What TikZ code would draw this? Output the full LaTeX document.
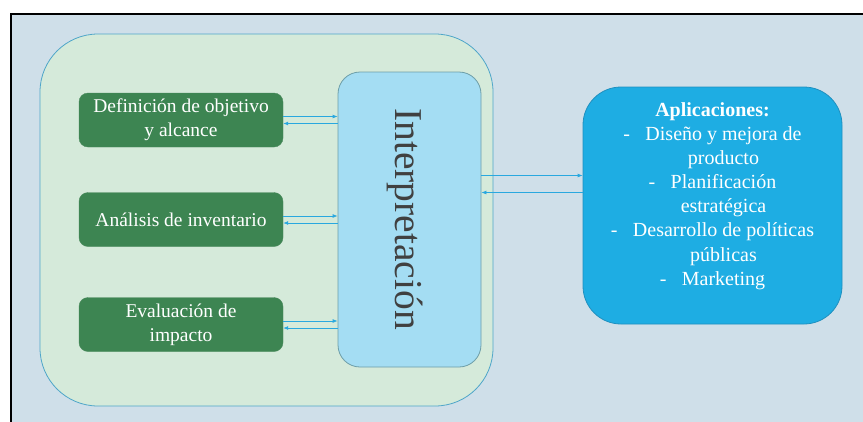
\documentclass[tikz,border=0pt]{standalone}
\usepackage{fontspec}
\setmainfont{Liberation Serif}
\usetikzlibrary{arrows.meta}

\definecolor{fondo}{HTML}{CFDFE9}
\definecolor{contfondo}{HTML}{D5EADA}
\definecolor{contborde}{HTML}{4FA6C9}
\definecolor{verde}{HTML}{3D8552}
\definecolor{verdeborde}{HTML}{4A8A5C}
\definecolor{celeste}{HTML}{A4DDF3}
\definecolor{celesteborde}{HTML}{6D9EA8}
\definecolor{azul}{HTML}{1EADE3}
\definecolor{azulborde}{HTML}{2090BF}
\definecolor{flechaazul}{HTML}{29A8DF}
\definecolor{gris}{HTML}{404040}

\newcommand{\guion}{\makebox[22pt][l]{-}}

\begin{document}
\begin{tikzpicture}[x=1pt, y=-1pt, >={Latex[length=5pt,width=4pt]},
    etapa/.style={draw=verdeborde, fill=verde, rounded corners=9pt,
        minimum width=204pt, minimum height=54pt, inner sep=0pt,
        text=white, align=center, font=\fontsize{19.5}{24}\selectfont},
    flecha/.style={->, draw=flechaazul, line width=0.8pt}]
    % 1. Fondo y marco
    \useasboundingbox (0,0) rectangle (863,421);
    \clip (0,0) rectangle (863,421);
    \fill[white] (0,0) rectangle (863,421);
    \draw[line width=2pt, fill=fondo] (11,14) rectangle (880,440);

    % 2. Contenedor de las fases
    \draw[contborde, fill=contfondo, line width=0.8pt, rounded corners=58pt]
        (40,34) rectangle (493,406);

    % 3. Fases
    \node[etapa] (objetivo) at (181,120) {Definición de objetivo\\y alcance};
    \node[etapa] (inventario) at (181,219.5) {Análisis de inventario};
    \node[etapa] (impacto) at (181,324.5) {Evaluación de\\impacto};

    % 4. Interpretación
    \node[draw=celesteborde, fill=celeste, line width=0.8pt, rounded corners=22pt,
        minimum width=143pt, minimum height=295pt, inner sep=0pt] (interp) at (409.5,219.5) {};
    \node[rotate=-90, text=gris, font=\fontsize{39.5}{40}\selectfont] (interptexto)
        at (405,219) {Interpretación};

    % 5. Aplicaciones
    \node[draw=azulborde, fill=azul, line width=0.8pt, rounded corners=38pt,
        minimum width=259pt, minimum height=237pt, inner sep=0pt] (aplic) at (712.5,205.5) {};
    \node[text=white, align=center, font=\fontsize{20}{24.1}\selectfont] (aplictexto)
        at (712.5,196) {\textbf{Aplicaciones:}\\
        \guion Diseño y mejora de\\ \hspace*{22pt}producto\\
        \guion Planificación\\ \hspace*{22pt}estratégica\\
        \guion Desarrollo de políticas\\ \hspace*{22pt}públicas\\
        \guion Marketing};

    % 6. Flechas de ida y vuelta
    \foreach \fase in {objetivo, inventario, impacto}{
        \path ([yshift=3.5pt]\fase.east) coordinate (\fase-ida)
              ([yshift=-3.5pt]\fase.east) coordinate (\fase-vuelta);
        \draw[flecha] (\fase-ida) -- (\fase-ida -| interp.west);
        \draw[flecha] (\fase-vuelta -| interp.west) -- (\fase-vuelta);
    }
    \path ([yshift=30pt]aplic.west) coordinate (aplic-ida)
          ([yshift=13pt]aplic.west) coordinate (aplic-vuelta);
    \draw[flecha] (aplic-ida -| interp.east) -- (aplic-ida);
    \draw[flecha] (aplic-vuelta) -- (aplic-vuelta -| interp.east);
\end{tikzpicture}
\end{document}
